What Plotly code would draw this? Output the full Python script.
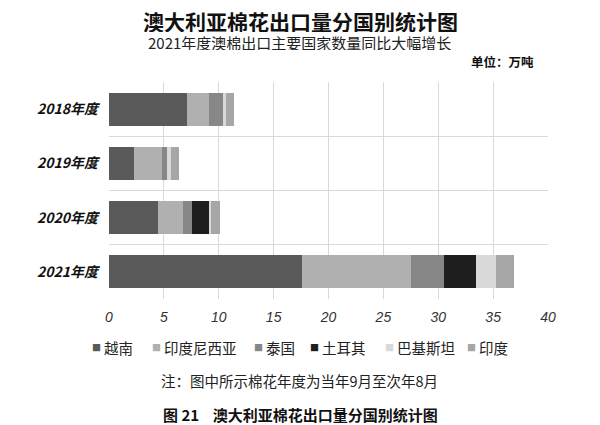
import plotly.graph_objects as go

# 棉花年度 (9月至次年8月), 单位: 万吨
years = ["2018年度", "2019年度", "2020年度", "2021年度"]
countries = ["越南", "印度尼西亚", "泰国", "土耳其", "巴基斯坦", "印度"]
colors = ["#5a5a5a", "#b0b0b0", "#878787", "#1e1e1e", "#d9d9d9", "#a6a6a6"]

vietnam = [7.15, 2.25, 4.5, 17.6]
indonesia = [1.95, 2.55, 2.2, 9.9]
thailand = [1.3, 0.5, 0.85, 3.0]
turkey = [0.0, 0.0, 1.55, 2.9]
pakistan = [0.3, 0.35, 0.2, 1.9]
india = [0.65, 0.75, 0.85, 1.6]

series = [vietnam, indonesia, thailand, turkey, pakistan, india]
pos = list(range(len(years)))

# legend label left edges (pixels); swatch sits just before each label
legend_txt = [103, 163, 265, 321, 396, 478]

L, W = 109, 439   # plot area left / width in px
B = 299           # plot area bottom in px


def px_x(p):
    return (p - L) / W


fig = go.Figure()
for name, vals, col in zip(countries, series, colors):
    fig.add_trace(go.Bar(
        x=vals, y=pos, name=name, orientation="h",
        marker=dict(color=col, line=dict(width=0)),
        width=0.61, showlegend=False,
    ))

fig.update_layout(
    barmode="stack",
    width=600, height=425,
    margin=dict(l=109, r=52, t=82, b=126),
    plot_bgcolor="white", paper_bgcolor="white",
    font=dict(family="Noto Sans CJK SC", size=13, color="#222"),
)

fig.update_xaxes(
    range=[0, 40], dtick=5, showgrid=True, gridcolor="#d9d9d9", gridwidth=1,
    zeroline=False, showline=False, ticks="", automargin=False, ticklabelstandoff=8,
    tickfont=dict(family="Liberation Sans", size=14, color="#333", style="italic"),
)
fig.update_yaxes(
    range=[3.5, -0.5], tickvals=pos, ticktext=years, showgrid=False,
    zeroline=False, showline=False, ticks="", ticklabelstandoff=10, automargin=False,
    tickfont=dict(family="Noto Sans CJK SC", size=14, color="#111",
                  weight="bold", style="italic"),
    minor=dict(tick0=-0.5, dtick=1, showgrid=True, gridcolor="#d9d9d9", gridwidth=1),
)

# legend drawn as text entries
for name, col, tx in zip(countries, colors, legend_txt):
    fig.add_annotation(
        text="■", xref="paper", yref="paper", x=px_x(tx - 1), xanchor="right",
        y=0.0, yanchor="middle", yshift=B - 347, showarrow=False,
        font=dict(size=9, color=col), borderpad=0,
    )
    fig.add_annotation(
        text=name, xref="paper", yref="paper", x=px_x(tx), xanchor="left",
        y=0.0, yanchor="middle", yshift=B - 347, showarrow=False,
        font=dict(size=14.5, color="#222"), borderpad=0,
    )

fig.add_annotation(text="<b>澳大利亚棉花出口量分国别统计图</b>", xref="paper", yref="paper",
                   x=px_x(300), xanchor="center", y=1.0, yanchor="middle",
                   yshift=82 - 21, showarrow=False, height=22, borderpad=0,
                   font=dict(size=21, color="#111"))
fig.add_annotation(text="2021年度澳棉出口主要国家数量同比大幅增长", xref="paper", yref="paper",
                   x=px_x(299), xanchor="center", y=1.0, yanchor="middle",
                   yshift=82 - 42, showarrow=False, height=16, borderpad=0,
                   font=dict(size=15, color="#222"))
fig.add_annotation(text="<b>单位：万吨</b>", xref="paper", yref="paper",
                   x=px_x(536), xanchor="right", y=1.0, yanchor="middle",
                   yshift=82 - 61, showarrow=False,
                   font=dict(size=12.5, color="#111"))
fig.add_annotation(text="注：图中所示棉花年度为当年9月至次年8月", xref="paper", yref="paper",
                   x=px_x(299), xanchor="center", y=0.0, yanchor="middle",
                   yshift=B - 380, showarrow=False,
                   font=dict(size=14.5, color="#222"))
fig.add_annotation(text="<b>图 21    澳大利亚棉花出口量分国别统计图</b>", xref="paper", yref="paper",
                   x=px_x(300), xanchor="center", y=0.0, yanchor="middle",
                   yshift=B - 414, showarrow=False,
                   font=dict(size=15, color="#111"))

# page body has a default margin; drop it so the figure fills the window
fig.write_html("out.html", config={"displayModeBar": False},
               post_script="document.body.style.margin='0';")
